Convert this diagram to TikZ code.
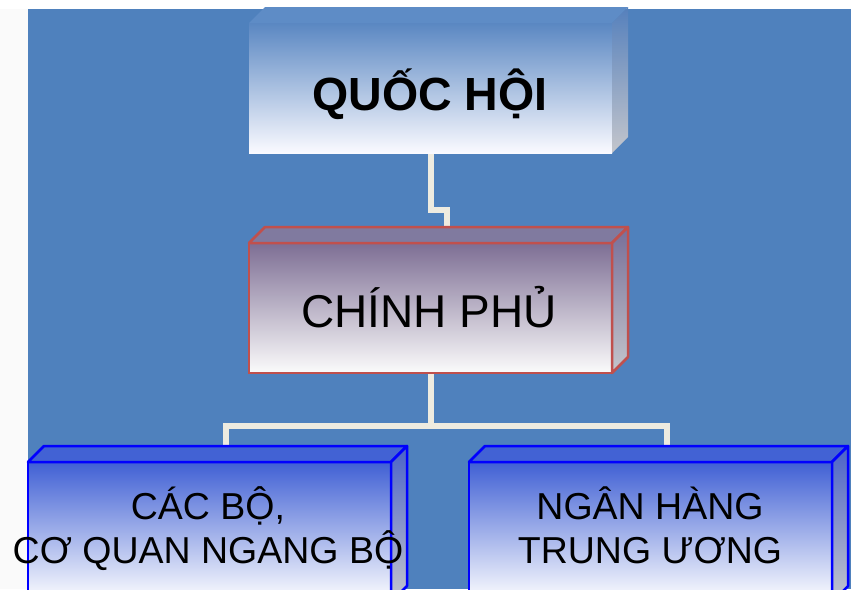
\documentclass[tikz,border=0pt]{standalone}
\usepackage{fontspec}
\setmainfont{Liberation Sans}
\pgfdeclarelayer{bg}
\pgfdeclarelayer{conn}
\pgfsetlayers{bg,conn,main}
\definecolor{bgblue}{HTML}{4F81BD}
\definecolor{conncol}{HTML}{EEEBE0}
\definecolor{cpred}{HTML}{C0504D}
\definecolor{qhtop}{HTML}{5A87C2}
\definecolor{qhmid}{HTML}{9FB5D9}
\definecolor{qhface}{HTML}{5E8CC6}
\definecolor{qhside}{HTML}{5580BC}
\definecolor{cptop}{HTML}{7D6E94}
\definecolor{cpmid}{HTML}{B3A9C3}
\definecolor{cpface}{HTML}{807A9F}
\definecolor{cpside}{HTML}{776E98}
\definecolor{bltop}{HTML}{4060D4}
\definecolor{blmid}{HTML}{9AA7E8}
\definecolor{blface}{HTML}{4262D4}
\definecolor{blside}{HTML}{4A62C8}
\definecolor{sidegray}{HTML}{C4C6CC}
\newcommand\boxfaces[5]{%
  \fill[#2,#5] (#1.north west) -- ++(16,-16) -- ([shift={(16,-16)}]#1.north east) -- (#1.north east) -- cycle;
  \shade[top color=#3,bottom color=#4,#5] (#1.north east) -- ++(16,-16) -- ([shift={(16,-16)}]#1.south east) -- (#1.south east) -- cycle;
}
\tikzset{
  boxnode/.style={minimum width=363pt, minimum height=130pt, inner sep=0pt, outer sep=0pt},
  connector/.style={draw=conncol, line width=6pt},
  bigtext/.style={font=\fontsize{46}{52}\selectfont, anchor=base},
  smalltext/.style={font=\fontsize{37.5}{44}\selectfont, align=center, anchor=base},
}
\begin{document}
\begin{tikzpicture}[x=1pt,y=-1pt]
\useasboundingbox (0,0) rectangle (851,589);
\clip (0,0) rectangle (851,589);
\begin{pgfonlayer}{bg}
  \fill[white!96!gray] (0,0) rectangle (851,589);
  \fill[white] (0,0) rectangle (851,9);
  \fill[bgblue] (28,9) rectangle (851,589);
\end{pgfonlayer}
% boxes
\node[boxnode, top color=qhtop, middle color=qhmid, bottom color=white!98!blue] (qh) at (430.5,88) {};
\boxfaces{qh}{qhface}{qhside}{sidegray}{}
\node[boxnode, top color=cptop, middle color=cpmid, bottom color=white!97!gray, draw=cpred, line width=2.5pt] (cp) at (430.5,308) {};
\boxfaces{cp}{cpface}{cpside}{sidegray}{draw=cpred, line width=2.5pt, line join=round}
\node[boxnode, minimum height=140pt, top color=bltop, middle color=blmid, bottom color=white, draw=blue, line width=2.5pt] (cb) at (209.5,532) {};
\boxfaces{cb}{blface}{blside}{sidegray}{draw=blue, line width=2.5pt, line join=round}
\node[boxnode, minimum height=140pt, top color=bltop, middle color=blmid, bottom color=white, draw=blue, line width=2.5pt] (nh) at (650.5,532) {};
\boxfaces{nh}{blface}{blside}{sidegray}{draw=blue, line width=2.5pt, line join=round}
% texts
\node[bigtext, font=\fontsize{46.5}{52}\selectfont\bfseries] (qht) at (430,110) {QUỐC HỘI};
\node[bigtext] (cpt) at (429,327) {CHÍNH PHỦ};
\node[smalltext] (cbt) at (208,563) {CÁC BỘ,\\CƠ QUAN NGANG BỘ};
\node[smalltext] (nht) at (650,563) {NGÂN HÀNG\\TRUNG ƯƠNG};
% connectors
\coordinate (cptop) at ([shift={(16,-15)}]cp.north);
\coordinate (cbtop) at ([shift={(16,-16)}]cb.north);
\coordinate (nhtop) at ([shift={(16,-16)}]nh.north);
\begin{pgfonlayer}{conn}
  \draw[connector] (qh.south) -- ++(0,57) -| (cptop);
  \draw[connector] (cp.south) -- ++(0,53) coordinate (jn) -| (cbtop);
  \draw[connector] (jn) -| (nhtop);
\end{pgfonlayer}
\end{tikzpicture}
\end{document}
